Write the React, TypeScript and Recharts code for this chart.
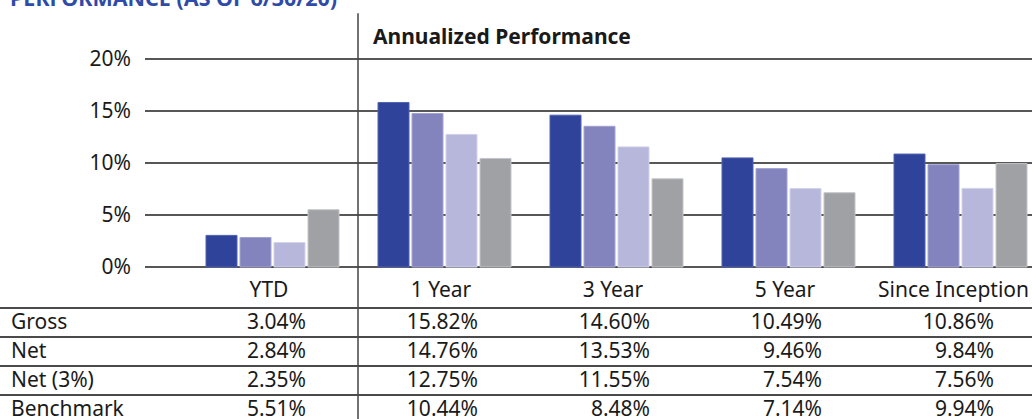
import React from 'react';
import { BarChart, Bar, XAxis, YAxis, CartesianGrid, ReferenceLine } from 'recharts';

const periods = ['YTD', '1 Year', '3 Year', '5 Year', 'Since Inception'];
const gross = [3.04, 15.82, 14.6, 10.49, 10.86];
const net = [2.84, 14.76, 13.53, 9.46, 9.84];
const net3 = [2.35, 12.75, 11.55, 7.54, 7.56];
const benchmark = [5.51, 10.44, 8.48, 7.14, 9.94];
const yTicks = [0, 5, 10, 15, 20];

const series = [
  { key: 'gross', label: 'Gross', values: gross, fill: '#2e4399', stroke: '#5363b0' },
  { key: 'net', label: 'Net', values: net, fill: '#8383be', stroke: '#a3a3d2' },
  { key: 'net3', label: 'Net (3%)', values: net3, fill: '#b6b7db', stroke: '#d2d3ea' },
  { key: 'benchmark', label: 'Benchmark', values: benchmark, fill: '#a0a1a5', stroke: '#c4c5c8' },
];

const chartData = periods.map((period, i) => {
  const row: any = { period };
  series.forEach(s => { row[s.key] = s.values[i]; });
  return row;
});

const font = '"Noto Sans", sans-serif';
const textColor = '#1a1a1a';

// table geometry: label column then one column per period, same bands as the chart
const labelCol = 186;
const colW = 172;
const tableW = labelCol + colW * periods.length;

const App: React.FC = () => {
  return (
    <div style={{ position: 'absolute', left: 0, top: 0, width: 1032, height: 419, overflow: 'hidden', background: '#fff', fontFamily: font, color: textColor }}>
      <div style={{ position: 'absolute', left: 10, top: -12, fontSize: 21.5, lineHeight: '20px', fontWeight: 700, color: '#2f4ba8', whiteSpace: 'nowrap' }}>
        PERFORMANCE (AS OF 6/30/20)
      </div>

      <BarChart
        width={1050}
        height={419}
        data={chartData}
        margin={{ top: 59, right: 4, bottom: 152, left: 0 }}
        barSize={31}
        barGap={3}
      >
        <CartesianGrid vertical={false} stroke="#1f1f1f" strokeWidth={1.5} />
        <XAxis dataKey="period" hide padding={{ left: 41, right: 0 }} />
        <YAxis
          width={145}
          domain={[0, 20]}
          ticks={yTicks}
          axisLine={false}
          tickLine={false}
          tickSize={0}
          tickMargin={14}
          tickFormatter={(v: number) => `${v}%`}
          tick={{ fill: textColor, fontSize: 21, fontFamily: font }}
        />
        {series.map(s => (
          <Bar key={s.key} dataKey={s.key} fill={s.fill} stroke={s.stroke} strokeWidth={1} isAnimationActive={false} />
        ))}
        <ReferenceLine
          segment={[{ x: '1 Year', y: 24.4 }, { x: '1 Year', y: -15 }]}
          position="start"
          ifOverflow="visible"
          stroke="#444"
          strokeWidth={1.5}
        />
      </BarChart>

      <div style={{ position: 'absolute', left: 373, top: 24, fontSize: 21, lineHeight: '24px', fontWeight: 700, whiteSpace: 'nowrap' }}>
        Annualized Performance
      </div>

      <div style={{ position: 'absolute', left: 0, top: 275, width: tableW, fontSize: 21 }}>
        <div style={{ display: 'flex', height: 32, lineHeight: '29px', width: tableW }}>
          <div style={{ width: labelCol, flexShrink: 0 }} />
          {periods.map((p, i) => (
            <div
              key={p}
              style={{
                width: colW,
                flexShrink: 0,
                whiteSpace: 'nowrap',
                textAlign: i === periods.length - 1 ? 'right' : 'center',
                paddingRight: i === periods.length - 1 ? 17 : 6,
                boxSizing: 'border-box',
              }}
            >
              {p}
            </div>
          ))}
        </div>
        {series.map(s => (
          <div key={s.key} style={{ display: 'flex', height: 29, lineHeight: '29px', borderTop: '2px solid #4a4a4a', boxSizing: 'border-box', width: tableW }}>
            <div style={{ width: labelCol, flexShrink: 0, paddingLeft: 11, boxSizing: 'border-box', whiteSpace: 'nowrap', marginTop: -2 }}>{s.label}</div>
            {s.values.map((v, i) => (
              <div key={i} style={{ width: colW, flexShrink: 0, textAlign: 'right', paddingRight: 52, boxSizing: 'border-box', whiteSpace: 'nowrap', marginTop: -2 }}>
                {v.toFixed(2)}%
              </div>
            ))}
          </div>
        ))}
      </div>
    </div>
  );
};

export default App;
